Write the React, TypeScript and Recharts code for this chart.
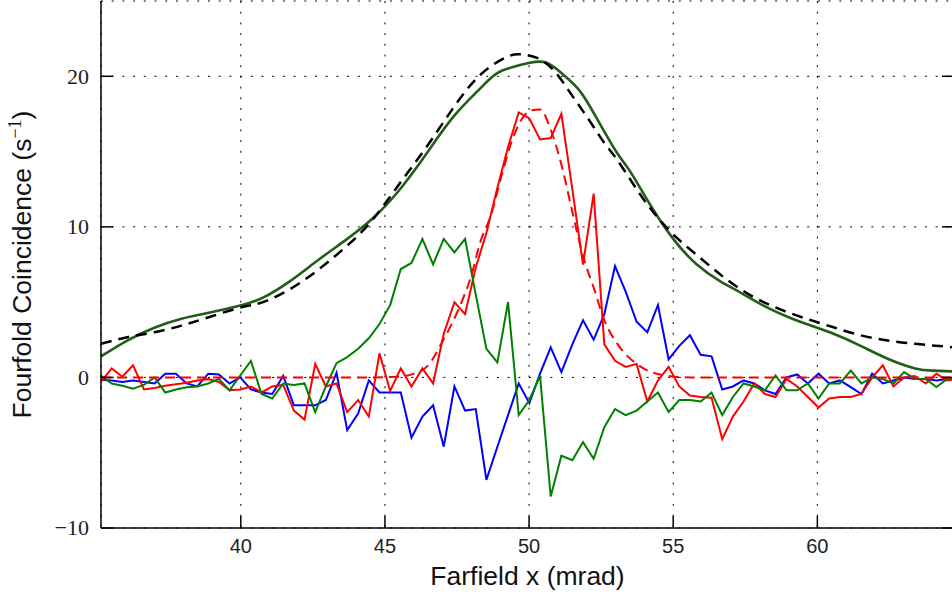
import React from 'react';
import { LineChart, Line, XAxis, YAxis, CartesianGrid, Label } from 'recharts';

// Farfield positions of the measured points (mrad)
const farfieldX = [
  35.15, 35.52, 35.89, 36.26, 36.64, 37.01, 37.38, 37.75, 38.12, 38.49,
  38.87, 39.24, 39.61, 39.98, 40.35, 40.72, 41.09, 41.47, 41.84, 42.21,
  42.58, 42.95, 43.32, 43.69, 44.07, 44.44, 44.81, 45.18, 45.55, 45.92,
  46.3, 46.67, 47.04, 47.41, 47.78, 48.15, 48.52, 48.9, 49.27, 49.64,
  50.01, 50.38, 50.75, 51.12, 51.5, 51.87, 52.24, 52.61, 52.98, 53.35,
  53.73, 54.1, 54.47, 54.84, 55.21, 55.58, 55.95, 56.33, 56.7, 57.07,
  57.44, 57.81, 58.18, 58.55, 58.93, 59.3, 59.67, 60.04, 60.41, 60.78,
  61.16, 61.53, 61.9, 62.27, 62.64, 63.01, 63.38, 63.76, 64.13, 64.5, 64.87,
];

const redCounts = [
  -0.3, 0.6, 0.05, 0.8, -0.8, -0.7, -0.55, -0.45, -0.35, -0.2,
  -0.1, -0.3, -0.85, -0.8, -0.6, -1.0, -0.6, -0.5, -2.2, -2.8,
  0.9, -0.6, -0.4, -2.3, -1.5, -2.6, 1.6, -0.9, 0.6, -0.6,
  0.6, -0.4, 2.9, 5.0, 4.2, 7.3, 9.6, 12.6, 15.3, 17.6,
  17.2, 15.8, 15.9, 17.5, 12.5, 7.5, 12.2, 2.2, 1.1, 0.7,
  0.9, -1.6, -0.2, 0.7, -0.6, -1.2, -1.3, -1.35, -4.1, -2.6,
  -1.6, -0.4, -1.1, -1.3, -0.1, -0.6, -1.3, -2.0, -1.4, -1.3,
  -1.3, -1.1, 0.0, 0.8, -0.6, 0.0, 0.1, -0.4, 0.25, -0.2, -0.1,
];

const blueCounts = [
  -0.15, -0.2, -0.3, -0.2, -0.3, -0.4, 0.25, 0.25, -0.4, -0.6,
  0.25, 0.2, -0.4, 0.0, -0.8, -1.0, -1.1, 0.1, -1.85, -1.85,
  -1.85, -1.5, 0.3, -3.5, -2.4, -0.2, -1.0, -1.0, -1.0, -4.0,
  -2.6, -1.85, -4.6, -0.6, -2.2, -2.1, -6.8, -4.6, -2.5, -0.4,
  -1.7, 0.25, 2.0, 0.35, 2.2, 3.8, 2.5, 4.2, 7.4, 5.7,
  3.7, 3.0, 4.8, 1.2, 2.1, 2.8, 1.5, 1.4, -0.8, -0.6,
  -0.2, -0.4, -0.86, -1.1, 0.0, 0.2, -0.4, 0.25, -0.4, -0.2,
  -0.64, -1.1, 0.25, -0.4, -0.2, 0.0, -0.1, -0.1, -0.2, -0.1, -0.15,
];

const greenCounts = [
  0.13, -0.4, -0.55, -0.75, -0.5, 0.0, -1.0, -0.8, -0.65, -0.6,
  -0.4, -0.1, -0.86, 0.13, 1.1, -1.1, -1.4, -0.4, -0.5, -0.4,
  -2.3, -0.6, 0.95, 1.35, 1.9, 2.6, 3.55, 4.8, 7.2, 7.6,
  9.2, 7.5, 9.2, 8.3, 9.2, 5.5, 1.9, 1.0, 5.0, -2.5,
  -1.5, 0.1, -7.9, -5.2, -5.5, -4.3, -5.4, -3.3, -2.1, -2.5,
  -2.2, -1.6, -1.0, -2.3, -1.5, -1.5, -1.6, -1.0, -2.5, -1.3,
  -0.4, -0.6, -0.85, 0.13, -0.85, -0.85, -0.4, -1.4, -0.4, -0.4,
  0.45, -0.4, 0.0, -0.1, -0.4, 0.35, -0.1, -0.1, -0.64, -0.1, -0.1,
];

// Total fit (dark green solid)
const totalFitX = [
  35.15, 36.06, 37.0, 37.94, 38.89, 40.02, 40.77, 41.71, 42.65, 43.6,
  44.54, 45.48, 46.42, 47.37, 48.31, 48.88, 49.5, 50.03, 50.61, 51.19,
  51.77, 52.35, 53.02, 53.5, 54.19, 55.0, 55.82, 56.62, 57.32, 58.2,
  59.0, 59.62, 60.56, 61.5, 62.44, 63.39, 64.0, 64.74,
];
const totalFitY = [
  1.4, 2.45, 3.3, 3.9, 4.3, 4.8, 5.3, 6.4, 7.75, 9.07,
  10.5, 12.4, 14.8, 17.3, 19.2, 20.2, 20.65, 20.9, 20.9, 20.1,
  19.0, 17.2, 15.0, 13.7, 11.5, 9.2, 7.5, 6.4, 5.65, 4.7,
  4.0, 3.55, 2.9, 2.1, 1.24, 0.6, 0.45, 0.4,
];

// Model (black dashed)
const modelX = [
  35.15, 36.06, 37.0, 37.94, 38.89, 40.02, 40.77, 41.71, 42.65, 43.6,
  44.54, 45.48, 46.42, 47.37, 48.31, 49.25, 49.75, 50.3, 50.9, 51.5,
  52.08, 52.6, 53.04, 53.73, 54.3, 55.0, 55.9, 56.79, 57.73, 58.67,
  59.62, 60.56, 61.5, 62.44, 63.39, 64.74,
];
const modelY = [
  2.23, 2.67, 3.0, 3.44, 4.0, 4.66, 5.0, 5.87, 7.1, 8.6,
  10.4, 12.8, 15.25, 17.9, 20.1, 21.3, 21.45, 21.2, 20.3, 18.7,
  17.1, 15.6, 14.5, 12.5, 11.0, 9.5, 8.0, 6.6, 5.4, 4.55,
  3.9, 3.33, 2.8, 2.45, 2.23, 2.0,
];

// Red model (red dashed)
const redModelX = [
  35.15, 44.5, 45.5, 46.0, 46.5, 47.0, 47.5, 48.0, 48.31, 48.68,
  49.06, 49.44, 49.8, 50.1, 50.38, 50.76, 51.14, 51.5, 51.88, 52.27,
  52.57, 53.15, 53.73, 54.43, 55.58, 64.87,
];
const redModelY = [
  0, 0, 0.05, 0.25, 0.8, 2.4, 4.3, 6.8, 9.0, 10.8,
  13.5, 15.9, 17.3, 17.75, 17.8, 16.4, 14.0, 11.0, 8.0, 5.8,
  4.0, 2.0, 0.9, 0.25, 0, 0,
];

const xTicks = [40, 45, 50, 55, 60];
const yTicks = [-10, 0, 10, 20];
const xDomain: [number, number] = [35.15, 64.74];
const yDomain: [number, number] = [-10, 25];

const noisyData = farfieldX.map((x, i) => ({
  x,
  red: redCounts[i],
  blue: blueCounts[i],
  green: greenCounts[i],
}));
const totalFitData = totalFitX.map((x, i) => ({ x, y: totalFitY[i] }));
const modelData = modelX.map((x, i) => ({ x, y: modelY[i] }));
const redModelData = redModelX.map((x, i) => ({ x, y: redModelY[i] }));

const SANS = "'Liberation Sans', Arial, Helvetica, sans-serif";
const SERIF = "'Liberation Serif', 'Times New Roman', serif";
const TICK_LEN = 12;

const fmtY = (v: number) => (v < 0 ? '\u2212' + Math.abs(v) : String(v));

const BottomTick = (props: any) => {
  const { x, y, payload } = props;
  return (
    <g>
      <line x1={x} x2={x} y1={y} y2={y - TICK_LEN} stroke="#000" strokeWidth={1.5} />
      <text x={x} y={y + 25} textAnchor="middle" fontFamily={SANS} fontSize={20} fill="#222">
        {payload.value}
      </text>
    </g>
  );
};

const TopTick = (props: any) => {
  const { x, y } = props;
  return <line x1={x} x2={x} y1={y} y2={y + TICK_LEN} stroke="#000" strokeWidth={1.5} />;
};

const LeftTick = (props: any) => {
  const { x, y, payload } = props;
  return (
    <g>
      <line x1={x} x2={x + TICK_LEN} y1={y} y2={y} stroke="#000" strokeWidth={1.5} />
      <text x={x - 12} y={y} dy="0.34em" textAnchor="end" fontFamily={SERIF} fontSize={22} fill="#222">
        {fmtY(payload.value)}
      </text>
    </g>
  );
};

const RightTick = (props: any) => {
  const { x, y } = props;
  return <line x1={x} x2={x - TICK_LEN} y1={y} y2={y} stroke="#000" strokeWidth={1.5} />;
};

const XLabelContent = (props: any) => {
  const vb = props.viewBox || {};
  return (
    <text x={vb.x + vb.width / 2} y={vb.y + 57} textAnchor="middle" fontFamily={SANS} fontSize={26.5} fill="#111">
      Farfield x (mrad)
    </text>
  );
};

const YLabelContent = (props: any) => {
  const vb = props.viewBox || {};
  const cx = 31;
  const cy = vb.y + vb.height / 2;
  return (
    <text
      x={cx}
      y={cy}
      transform={`rotate(-90, ${cx}, ${cy})`}
      textAnchor="middle"
      fontFamily={SANS}
      fontSize={26.5}
      fill="#111"
    >
      <tspan>Fourfold Coincidence (s</tspan>
      <tspan dy={-10} fontSize={18} fontFamily={SERIF}>{'\u22121'}</tspan>
      <tspan dy={10}>)</tspan>
    </text>
  );
};

export default function App() {
  return (
    <div
      style={{
        position: 'absolute',
        left: 0,
        top: 0,
        width: 952,
        height: 600,
        overflow: 'hidden',
        background: '#fff',
      }}
    >
      <LineChart width={960} height={600} margin={{ top: 1, right: 0, bottom: 0, left: 0 }}>
        <CartesianGrid stroke="#000" strokeWidth={1} strokeDasharray="2 8.7" />
        <XAxis
          dataKey="x"
          type="number"
          domain={xDomain}
          ticks={xTicks}
          allowDataOverflow
          interval={0}
          height={72}
          axisLine={{ stroke: '#000', strokeWidth: 1.5 }}
          tickLine={false}
          tickSize={0}
          tickMargin={0}
          tick={BottomTick}
        >
          <Label content={XLabelContent} />
        </XAxis>
        <XAxis
          xAxisId="top"
          orientation="top"
          type="number"
          domain={xDomain}
          ticks={xTicks}
          allowDataOverflow
          interval={0}
          height={0}
          axisLine={{ stroke: '#000', strokeWidth: 1.5 }}
          tickLine={false}
          tickSize={0}
          tickMargin={0}
          tick={TopTick}
        />
        <YAxis
          type="number"
          domain={yDomain}
          ticks={yTicks}
          allowDataOverflow
          interval={0}
          width={101}
          axisLine={{ stroke: '#000', strokeWidth: 1.5 }}
          tickLine={false}
          tickSize={0}
          tickMargin={0}
          tick={LeftTick}
        >
          <Label content={YLabelContent} />
        </YAxis>
        <YAxis
          yAxisId="right"
          orientation="right"
          type="number"
          domain={yDomain}
          ticks={yTicks}
          allowDataOverflow
          interval={0}
          width={6}
          axisLine={{ stroke: '#000', strokeWidth: 1.5 }}
          tickLine={false}
          tickSize={0}
          tickMargin={0}
          tick={RightTick}
        />
        <Line data={noisyData} dataKey="blue" type="linear" stroke="#0000ff" strokeWidth={2} dot={false} isAnimationActive={false} />
        <Line data={noisyData} dataKey="red" type="linear" stroke="#ff0000" strokeWidth={2} dot={false} isAnimationActive={false} />
        <Line data={noisyData} dataKey="green" type="linear" stroke="#008000" strokeWidth={2} dot={false} isAnimationActive={false} />
        <Line data={redModelData} dataKey="y" type="monotone" stroke="#ff0000" strokeWidth={2} strokeDasharray="10 6" dot={false} isAnimationActive={false} />
        <Line data={totalFitData} dataKey="y" type="natural" stroke="#235d19" strokeWidth={2.6} dot={false} isAnimationActive={false} />
        <Line data={modelData} dataKey="y" type="natural" stroke="#000" strokeWidth={2.5} strokeDasharray="11 7" dot={false} isAnimationActive={false} />
      </LineChart>
    </div>
  );
}
